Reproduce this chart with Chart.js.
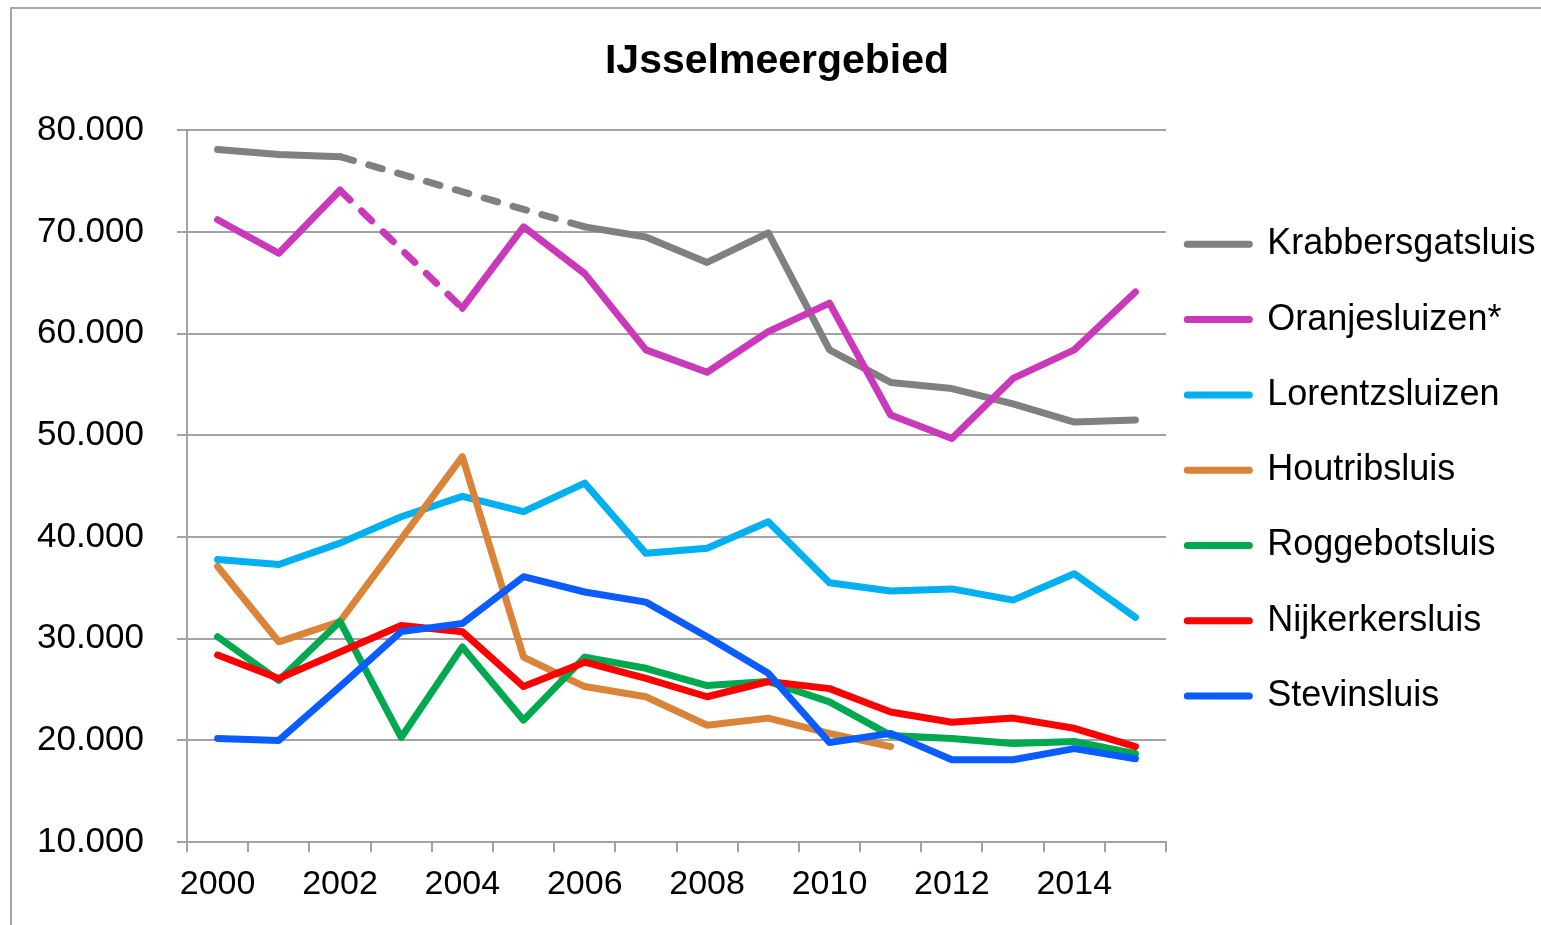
<!DOCTYPE html>
<html>
<head>
<meta charset="utf-8">
<title>IJsselmeergebied</title>
<script src="https://cdn.jsdelivr.net/npm/chart.js@4.4.1/dist/chart.umd.min.js"></script>
<style>
  html, body { margin: 0; padding: 0; background: #fff; }
  canvas { display: block; }
</style>
</head>
<body>
<canvas id="myChart" width="1541" height="925"></canvas>
<script>
// jaren en passages per sluis (null = geen gegevens, gestippeld doorgetrokken)
const years = ['2000', '2001', '2002', '2003', '2004', '2005', '2006', '2007',
               '2008', '2009', '2010', '2011', '2012', '2013', '2014', '2015'];

const krabbersgatsluis = [78100, 77600, 77400, null, null, null, 70500, 69500, 67000, 69900, 58400, 55200, 54600, 53100, 51300, 51500];
const oranjesluizen    = [71200, 67900, 74100, null, 62500, 70500, 65900, 58400, 56200, 60200, 63000, 52000, 49700, 55600, 58400, 64100];
const lorentzsluizen   = [37800, 37300, 39400, 42000, 44000, 42500, 45300, 38400, 38900, 41500, 35500, 34700, 34900, 33800, 36400, 32100];
const houtribsluis     = [37100, 29700, 31700, 39800, 47900, 28200, 25300, 24300, 21500, 22200, 20700, 19400, null, null, null, null];
const roggebotsluis    = [30200, 25900, 31700, 20300, 29200, 22000, 28200, 27100, 25400, 25800, 23800, 20500, 20200, 19700, 19900, 18700];
const nijkerkersluis   = [28400, 26100, 28700, 31300, 30700, 25300, 27700, 26100, 24300, 25800, 25100, 22800, 21800, 22200, 21200, 19400];
const stevinsluis      = [20200, 20000, 25300, 30700, 31500, 36100, 34600, 33600, 30200, 26600, 19800, 20700, 18100, 18100, 19200, 18200];

const yTicks = [10000, 20000, 30000, 40000, 50000, 60000, 70000, 80000];

const formatNl = v => String(v).replace(/\B(?=(\d{3})+(?!\d))/g, '.');

const gridColor = '#a3a3a3';

// segment dat over ontbrekende jaren loopt -> stippellijn
const gapDash = ctx => {
    const data = ctx.chart.data.datasets[ctx.datasetIndex].data;
    return data[ctx.p0DataIndex] === null ? [14, 16] : undefined;
};

const makeSet = (label, data, color, order) => ({
    label,
    data,
    borderColor: color,
    backgroundColor: color,
    borderWidth: 7,
    borderCapStyle: 'round',
    borderJoinStyle: 'round',
    pointRadius: 0,
    pointHoverRadius: 0,
    tension: 0,
    spanGaps: true,
    order,
    segment: { borderDash: gapDash }
});

const frame = {
    id: 'frame',
    beforeDraw(chart) {
        const c = chart.ctx;
        c.save();
        c.fillStyle = '#fff';
        c.fillRect(0, 0, chart.width, chart.height);
        c.strokeStyle = '#a6a6a6';
        c.lineWidth = 2;
        c.strokeRect(11, 8, chart.width + 50, chart.height + 50);
        c.restore();
    }
};

// legenda iets naar links/onder schuiven zoals in Excel
const legendPlace = {
    id: 'legendPlace',
    afterLayout(chart) {
        chart.legend.left = 1148;
        chart.legend.top = 187;
    }
};

const ctx = document.getElementById('myChart');

new Chart(ctx, {
    type: 'line',
    data: {
        labels: years,
        datasets: [
            makeSet('Krabbersgatsluis', krabbersgatsluis, '#808080', 7),
            makeSet('Oranjesluizen*', oranjesluizen, '#C939B9', 6),
            makeSet('Lorentzsluizen', lorentzsluizen, '#00B0F0', 5),
            makeSet('Houtribsluis', houtribsluis, '#DA843A', 4),
            makeSet('Roggebotsluis', roggebotsluis, '#00A84F', 3),
            makeSet('Nijkerkersluis', nijkerkersluis, '#FF0000', 2),
            makeSet('Stevinsluis', stevinsluis, '#0A5CFF', 1)
        ]
    },
    options: {
        responsive: false,
        animation: false,
        devicePixelRatio: 1,
        layout: { padding: { left: 13, right: 0, top: 0, bottom: 8 } },
        plugins: {
            title: {
                display: true,
                text: 'IJsselmeergebied',
                color: '#000',
                font: { family: '"Liberation Sans", Arial, sans-serif', size: 41, weight: 'bold' },
                padding: { top: 37, bottom: 44 }
            },
            legend: {
                position: 'right',
                align: 'start',
                maxWidth: 375,
                labels: {
                    color: '#000',
                    font: { family: '"Liberation Sans", Arial, sans-serif', size: 36 },
                    usePointStyle: true,
                    pointStyleWidth: 62,
                    padding: 39.3,
                    generateLabels: chart => chart.data.datasets.map((ds, i) => ({
                        text: ds.label,
                        fillStyle: ds.borderColor,
                        strokeStyle: ds.borderColor,
                        fontColor: '#000',
                        lineWidth: 7,
                        lineCap: 'round',
                        pointStyle: 'line',
                        datasetIndex: i
                    }))
                }
            },
            tooltip: { enabled: false }
        },
        scales: {
            x: {
                offset: true,
                grid: {
                    offset: true,
                    drawOnChartArea: false,
                    drawTicks: true,
                    tickLength: 10,
                    color: gridColor,
                    lineWidth: 2
                },
                border: { color: gridColor, width: 2 },
                ticks: {
                    autoSkip: false,
                    maxRotation: 0,
                    padding: 12,
                    color: '#000',
                    font: { family: '"Liberation Sans", Arial, sans-serif', size: 34 },
                    callback: (val, idx) => (idx % 2 === 0 ? years[idx] : '')
                }
            },
            y: {
                min: yTicks[0],
                max: yTicks[yTicks.length - 1],
                afterFit: scale => { scale.width = 174; },
                afterBuildTicks: scale => { scale.ticks = yTicks.map(v => ({ value: v })); },
                grid: {
                    color: gridColor,
                    lineWidth: 2,
                    tickLength: 10
                },
                border: { color: gridColor, width: 2 },
                ticks: {
                    padding: 33,
                    color: '#000',
                    font: { family: '"Liberation Sans", Arial, sans-serif', size: 35 },
                    callback: v => formatNl(v)
                }
            }
        }
    },
    plugins: [frame, legendPlace]
});
</script>
</body>
</html>
